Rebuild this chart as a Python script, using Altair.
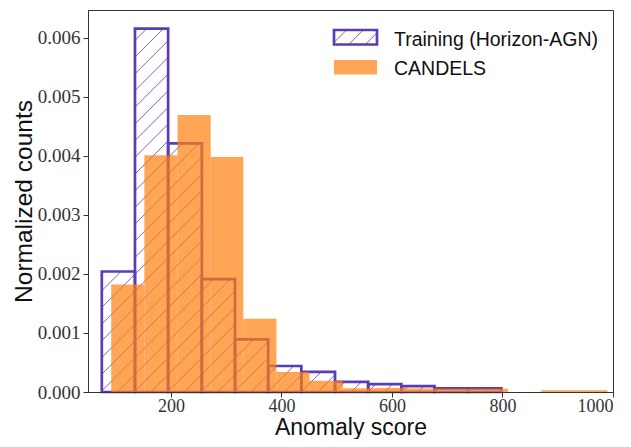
import altair as alt
import pandas as pd

# ---- data ----
train_edges = [75, 135, 195, 256, 316, 376, 436, 497, 557, 617, 677, 738, 798]
train_values = [0.00204, 0.00615, 0.00421, 0.00191, 0.00089, 0.00044,
                0.00034, 0.00017, 0.000135, 0.00010, 0.000063, 0.000063]
cand_edges = [92, 152, 212, 272, 331, 391, 451, 511, 571, 631, 691, 751,
              810, 870, 930, 990]
cand_values = [0.00182, 0.00401, 0.00469, 0.00398, 0.00124, 0.00034,
               0.00019, 0.000063, 0.000068, 0.00006, 0.000054, 0.000054,
               0.0, 0.000029, 0.000029]
x_ticks = [200, 400, 600, 800, 1000]
y_ticks = [0.000, 0.001, 0.002, 0.003, 0.004, 0.005, 0.006]
legend_labels = ["Training (Horizon-AGN)", "CANDELS"]

# ---- layout / style ----
W, H = 525, 382
XMIN, XMAX = 50, 1000
YMAX = 0.006467
PURPLE = "#5b3cb4"
ORANGE = "#ff7f0e"
HATCH_SP = 16.7

train = pd.DataFrame({"x0": train_edges[:-1], "x1": train_edges[1:],
                      "y": train_values, "base": 0.0})
cand = pd.DataFrame({"x0": cand_edges[:-1], "x1": cand_edges[1:],
                     "y": cand_values, "base": 0.0})
cand = cand[cand["y"] > 0]


def px(v):
    return (v - XMIN) / (XMAX - XMIN) * W


def py(v):
    return v / YMAX * H


# hatch ('/') segments, computed in pixel space and mapped back to data units
segs = []
phase = 4.0
for a, b, h in zip(train_edges[:-1], train_edges[1:], train_values):
    P0, P1, PH = px(a), px(b), py(h)
    k = int(-W / HATCH_SP) - 2
    while True:
        c = k * HATCH_SP + phase
        if c > PH + 1:
            break
        lo = max(P0, -c)
        hi = min(P1, PH - c)
        if hi - lo > 0.3:
            segs.append({
                "hx": XMIN + lo / W * (XMAX - XMIN),
                "hx2": XMIN + hi / W * (XMAX - XMIN),
                "hy": (lo + c) / H * YMAX,
                "hy2": (hi + c) / H * YMAX,
            })
        k += 1
hatch = pd.DataFrame(segs)

xscale = alt.Scale(domain=[XMIN, XMAX], nice=False, zero=False)
yscale = alt.Scale(domain=[0, YMAX], nice=False, zero=True)

xaxis = alt.Axis(values=x_ticks, format="d", title="Anomaly score",
                 grid=False, zindex=1, tickSize=5, labelPadding=0,
                 labelFont="Liberation Serif", labelFontSize=18,
                 labelColor="#333", titleFont="Liberation Sans",
                 titleFontSize=23, titleFontWeight="normal",
                 titleColor="#111", titleBaseline="alphabetic",
                 titleY=42.5, titleX=W / 2, domainColor="#333",
                 tickColor="#333")
yaxis = alt.Axis(values=y_ticks, format=".3f", title="Normalized counts",
                 grid=False, zindex=1, tickSize=5, labelPadding=3,
                 labelFont="Liberation Serif", labelFontSize=19,
                 labelColor="#333", titleFont="Liberation Sans",
                 titleFontSize=24.5, titleFontWeight="normal",
                 titleColor="#111", titleBaseline="alphabetic",
                 titleAngle=-90, titleX=-57, titleY=H / 2,
                 domainColor="#333", tickColor="#333")

hatch_layer = alt.Chart(hatch).mark_rule(
    color=PURPLE, strokeWidth=1, opacity=0.8
).encode(
    x=alt.X("hx:Q", scale=xscale, axis=xaxis),
    x2="hx2:Q",
    y=alt.Y("hy:Q", scale=yscale, axis=yaxis),
    y2="hy2:Q",
)

train_layer = alt.Chart(train).mark_rect(
    fillOpacity=0, stroke=PURPLE, strokeWidth=2.7
).encode(
    x=alt.X("x0:Q", scale=xscale), x2="x1:Q",
    y=alt.Y("y:Q", scale=yscale), y2="base:Q",
)

cand_layer = alt.Chart(cand).mark_rect(
    color=ORANGE, opacity=0.7, strokeWidth=0
).encode(
    x=alt.X("x0:Q", scale=xscale), x2="x1:Q",
    y=alt.Y("y:Q", scale=yscale), y2="base:Q",
)

# ---- legend (manual, hatched patch) ----
LX0, LX1 = 246, 289
TY0, TY1 = 20, 34.5
CY0, CY1 = 50, 64.5
legend_layers = []
k = -6
while k < 8:
    c = k * HATCH_SP + 2.0
    pw, ph = LX1 - LX0, TY1 - TY0
    lo = max(0, -c)
    hi = min(pw, ph - c)
    if hi - lo > 0.5:
        legend_layers.append(
            alt.Chart(hatch.head(1)).mark_rule(color=PURPLE, strokeWidth=1, opacity=0.8).encode(
                x=alt.value(LX0 + lo), x2=alt.value(LX0 + hi),
                y=alt.value(TY1 - (lo + c)), y2=alt.value(TY1 - (hi + c)),
            )
        )
    k += 1
legend_layers.append(
    alt.Chart(hatch.head(1)).mark_rect(fillOpacity=0, stroke=PURPLE, strokeWidth=2.7).encode(
        x=alt.value(LX0), x2=alt.value(LX1), y=alt.value(TY0), y2=alt.value(TY1)
    )
)
legend_layers.append(
    alt.Chart(hatch.head(1)).mark_rect(color=ORANGE, opacity=0.7, strokeWidth=0).encode(
        x=alt.value(LX0), x2=alt.value(LX1), y=alt.value(CY0), y2=alt.value(CY1)
    )
)
for lab, yb in zip(legend_labels, [36, 64.5]):
    legend_layers.append(
        alt.Chart(hatch.head(1)).mark_text(
            align="left", baseline="alphabetic", font="Liberation Sans",
            fontSize=19.5, color="#111"
        ).encode(x=alt.value(306), y=alt.value(yb), text=alt.value(lab))
    )

chart = alt.layer(hatch_layer, train_layer, cand_layer, *legend_layers).properties(
    width=W, height=H,
    autosize=alt.AutoSizeParams(type="none"),
    padding={"left": 80, "top": 2, "right": 10, "bottom": 47},
).configure_view(stroke="#333", strokeWidth=1)

chart.save("out.html", embed_options={"renderer": "svg", "actions": False})
